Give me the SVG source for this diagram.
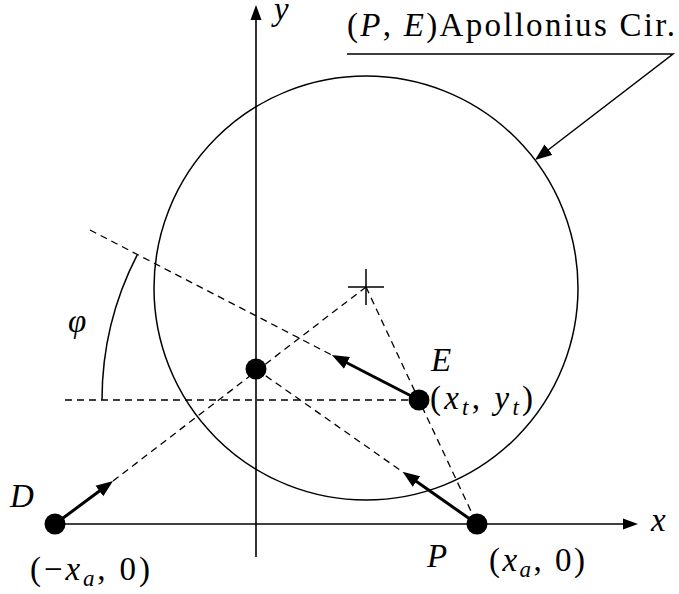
<svg xmlns="http://www.w3.org/2000/svg" width="679" height="594" viewBox="0 0 679 594">
<style>
text{font-family:"Liberation Serif","DejaVu Serif",serif;font-size:33px;fill:#000}
.it{font-style:italic}
.sub{font-size:23px;font-style:italic}
.axis{stroke:#000;stroke-width:1.6;fill:none}
.thin{stroke:#000;stroke-width:1.5;fill:none}
.dash{stroke:#000;stroke-width:1.3;fill:none;stroke-dasharray:7 5}
.vel{stroke:#000;stroke-width:3;fill:none}
.dot{fill:#000}
</style>
<defs>
<marker id="ah" markerUnits="userSpaceOnUse" viewBox="0 -7 17 14" refX="3" refY="0" markerWidth="17" markerHeight="14" orient="auto">
<path d="M0,-6.5 L17,0 L0,6.5 z" fill="#000"/>
</marker>
<marker id="axh" markerUnits="userSpaceOnUse" viewBox="0 -6 15 12" refX="1" refY="0" markerWidth="15" markerHeight="12" orient="auto">
<path d="M0,-5.5 L15,0 L0,5.5 z" fill="#000"/>
</marker>
</defs>

<g id="circle">
<circle cx="366" cy="288" r="212" class="thin"/>
<path d="M348,287 H384 M366,269 V305" class="thin"/>
</g>

<g id="axes">
<line x1="256" y1="557" x2="256" y2="19" class="axis" marker-end="url(#axh)"/>
<line x1="55" y1="524" x2="624" y2="524" class="axis" marker-end="url(#axh)"/>
<text class="it" x="274" y="20">y</text>
<text class="it" x="651" y="531">x</text>
</g>

<g id="connectors">
<line x1="113" y1="481" x2="366" y2="287" class="dash"/>
<line x1="65" y1="400" x2="419" y2="400" class="dash"/>
<line x1="90" y1="230" x2="331.9" y2="355.1" class="dash"/>
<line x1="256" y1="369" x2="402.5" y2="471.8" class="dash"/>
<line x1="366" y1="287" x2="477" y2="524" class="dash"/>
<path d="M102,400 A317,317 0 0 1 137.2,254.8" class="thin"/>
<line x1="55" y1="524" x2="101.8" y2="489.3" class="vel" marker-end="url(#ah)"/>
<line x1="419" y1="400" x2="344.3" y2="361.5" class="vel" marker-end="url(#ah)"/>
<line x1="477" y1="524" x2="414" y2="479.8" class="vel" marker-end="url(#ah)"/>
<polyline points="347,54 673,54 546.1,151.5" class="thin" marker-end="url(#ah)"/>
</g>

<g id="label-apollonius">
<text x="347" y="36" textLength="328" lengthAdjust="spacing">(<tspan class="it">P</tspan>, <tspan class="it">E</tspan>)Apollonius Cir.</text>
</g>

<g id="angle-phi">
<text class="it" x="68" y="332" font-size="35">φ</text>
</g>

<g id="node-D">
<circle cx="55" cy="524" r="10.5" class="dot"/>
<text class="it" x="10" y="507">D</text>
<text x="30" y="580" textLength="120" lengthAdjust="spacing">(−<tspan class="it">x</tspan><tspan class="sub" dy="6">a</tspan><tspan dy="-6">, 0)</tspan></text>
</g>

<g id="node-mid">
<circle cx="256" cy="369" r="10.5" class="dot"/>
</g>

<g id="node-E">
<circle cx="419" cy="400" r="10.5" class="dot"/>
<text class="it" x="431" y="371">E</text>
<text x="430" y="409" textLength="103" lengthAdjust="spacing">(<tspan class="it">x</tspan><tspan class="sub" dy="6">t</tspan><tspan dy="-6">, </tspan><tspan class="it">y</tspan><tspan class="sub" dy="6">t</tspan><tspan dy="-6">)</tspan></text>
</g>

<g id="node-P">
<circle cx="477" cy="524" r="10.5" class="dot"/>
<text class="it" x="427" y="567">P</text>
<text x="489" y="571" textLength="96" lengthAdjust="spacing">(<tspan class="it">x</tspan><tspan class="sub" dy="6">a</tspan><tspan dy="-6">, 0)</tspan></text>
</g>
</svg>
